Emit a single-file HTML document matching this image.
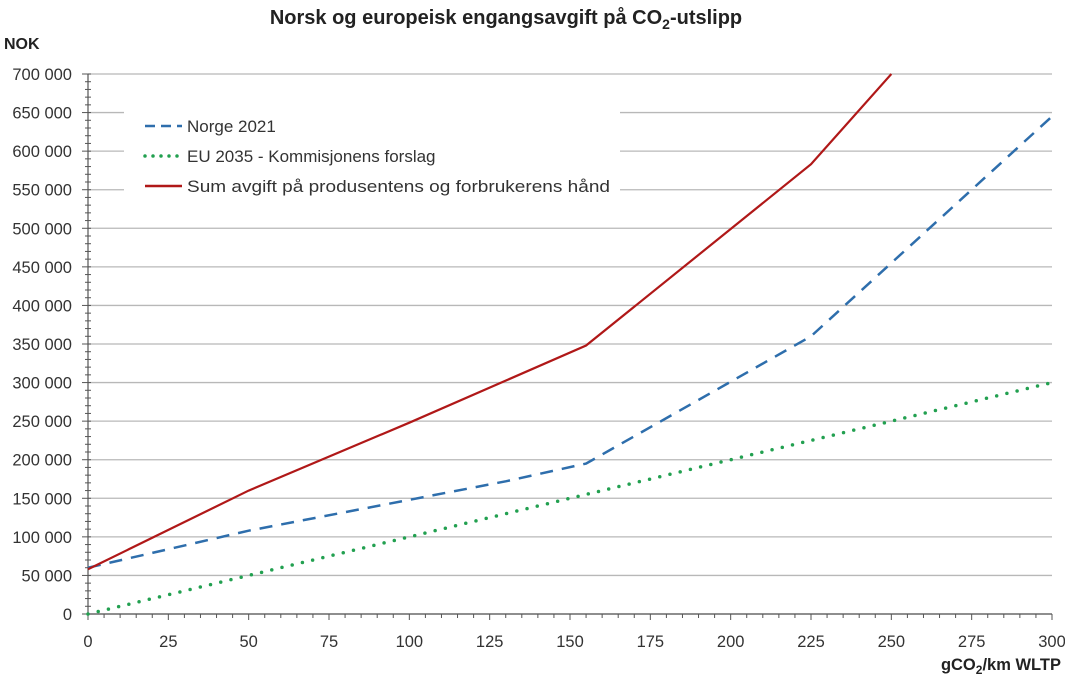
<!DOCTYPE html>
<html><head><meta charset="utf-8"><style>
body{margin:0;background:#fff;}
svg{font-family:"Liberation Sans",sans-serif;}
</style></head><body>
<svg id="c" width="1065" height="684">
<text x="506" y="24" text-anchor="middle" font-size="20" font-weight="bold" fill="#222">Norsk og europeisk engangsavgift på CO<tspan font-size="14" dy="5">2</tspan><tspan dy="-5">-utslipp</tspan></text>
<text x="4" y="49" font-size="16" font-weight="bold" fill="#222">NOK</text>
<text x="1061" y="670" text-anchor="end" font-size="16.5" font-weight="bold" fill="#222">gCO<tspan font-size="12" dy="4">2</tspan><tspan dy="-4">/km  WLTP</tspan></text>
<g id="grid"></g><g id="axes"></g><g id="series"></g>
<g>
<rect x="124" y="104" width="496" height="100" fill="#fff"/>
<line x1="145" y1="126" x2="182" y2="126" stroke="#2e6eac" stroke-width="2.5" stroke-dasharray="10,6"/>
<text x="187" y="132" font-size="17" fill="#333">Norge 2021</text>
<line x1="145" y1="156" x2="182" y2="156" stroke="#22a050" stroke-width="3.5" stroke-dasharray="0,8" stroke-linecap="round"/>
<text x="187" y="162" font-size="17" fill="#333">EU 2035 - Kommisjonens forslag</text>
<line x1="145" y1="186" x2="182" y2="186" stroke="#b01818" stroke-width="2.5"/>
<text x="187" y="192" font-size="17" fill="#333" textLength="423" lengthAdjust="spacingAndGlyphs">Sum avgift på produsentens og forbrukerens hånd</text>
</g>
</svg>
<script>
const xTicks=[0,25,50,75,100,125,150,175,200,225,250,275,300];
const yTicks=[0,50000,100000,150000,200000,250000,300000,350000,400000,450000,500000,550000,600000,650000,700000];
const norgeX=[0,50,100,130,155,225,300];
const norgeY=[60000,108000,148000,172000,195000,360000,645000];
const euX=[0,300];
const euY=[0,300000];
const sumX=[0,50,100,155,225,250];
const sumY=[58000,160000,248000,348000,583000,700000];
const X0=88,X1=1052,Y0=614,Y1=74;
const sx=v=>X0+(v/300)*(X1-X0);
const sy=v=>Y0-(v/700000)*(Y0-Y1);
const NS="http://www.w3.org/2000/svg";
function mk(t,a,p){const e=document.createElementNS(NS,t);for(const k in a)e.setAttribute(k,a[k]);p.appendChild(e);return e;}
const g=document.getElementById('grid'),ax=document.getElementById('axes'),s=document.getElementById('series');
const fmt=v=>v===0?'0':String(v).replace(/\B(?=(\d{3})+(?!\d))/g,' ');
yTicks.forEach(v=>{
 const l=mk('line',{x1:X0,x2:X1,y1:sy(v),y2:sy(v),stroke:'#b8b8b8','stroke-width':1.3},g);
 
 
 const t=mk('text',{x:72,y:sy(v)+6,'text-anchor':'end','font-size':16.5,fill:'#333'},ax);
 t.textContent=fmt(v);
 
 
});
for(let v=0;v<=700000;v+=10000){mk('line',{x1:X0-(v%50000?3:6),x2:X0+3,y1:sy(v),y2:sy(v),stroke:'#555'},ax);}
for(let v=0;v<=300;v+=5){mk('line',{x1:sx(v),x2:sx(v),y1:Y0,y2:Y0+(v%25?4:6),stroke:'#555'},ax);}
xTicks.forEach(v=>{
 const t=mk('text',{x:sx(v),y:Y0+33,'text-anchor':'middle','font-size':16.5,fill:'#333'},ax);
 t.textContent=v;
 
 
});
mk('line',{x1:X0,x2:X0,y1:Y1,y2:Y0,stroke:'#555','stroke-width':1.2},ax);
mk('line',{x1:X0,x2:X1,y1:Y0,y2:Y0,stroke:'#555','stroke-width':1.2},ax);
function line(xs,ys,attrs,name){
 const p=mk('polyline',Object.assign({points:xs.map((x,i)=>sx(x)+','+sy(ys[i])).join(' '),fill:'none'},attrs),s);
 
 
}
line(euX,euY,{stroke:'#22a050','stroke-width':3.5,'stroke-dasharray':'0,10.5','stroke-linecap':'round'},'eu-2035-line');
line(norgeX,norgeY,{stroke:'#2e6eac','stroke-width':2.5,'stroke-dasharray':'13,9'},'norge-2021-line');
line(sumX,sumY,{stroke:'#b01818','stroke-width':2.2},'sum-avgift-line');
</script>
</body></html>
